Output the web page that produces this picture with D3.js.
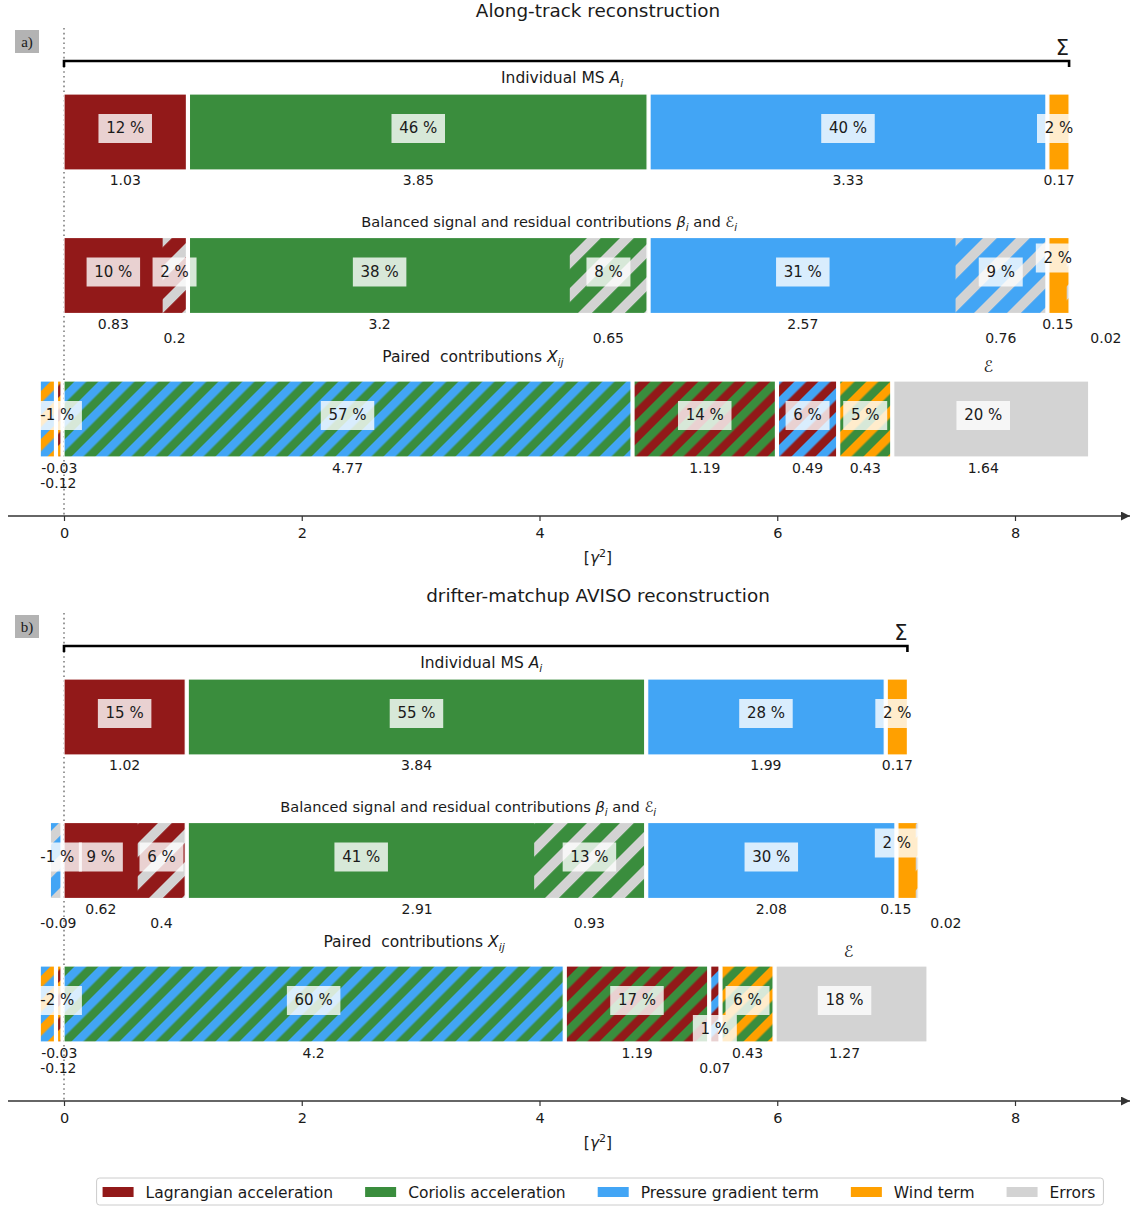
<!DOCTYPE html>
<html>
<head>
<meta charset="utf-8">
<script src="https://cdn.jsdelivr.net/npm/d3@7"></script>
<style>
  body { margin: 0; background: #fff; }
  svg text { font-family: "DejaVu Sans", sans-serif; fill: #1a1a1a; white-space: pre; }
</style>
</head>
<body>
<svg id="chart" width="1134" height="1208"></svg>
<script>
// ---- data -------------------------------------------------------------
const termNames = ["Lagrangian acceleration", "Coriolis acceleration", "Pressure gradient term", "Wind term", "Errors"];
const panelTitles = ["Along-track reconstruction", "drifter-matchup AVISO reconstruction"];
const panelTags = ["a)", "b)"];
const xTicks = [0, 2, 4, 6, 8];

// individual mean squares A_i (Lagrangian, Coriolis, pressure gradient, wind)
const individualA = [1.03, 3.85, 3.33, 0.17];
const individualB = [1.02, 3.84, 1.99, 0.17];

// balanced signal beta_i and residual E_i per term
const signalA = [0.83, 3.2, 2.57, 0.15];
const residualA = [0.2, 0.65, 0.76, 0.02];
const signalB = [0.62, 2.91, 2.08, 0.15];
const residualB = [0.4, 0.93, -0.09, 0.02];

// paired contributions X_ij, with the two terms of each pair
const pairTerms = [[1, 2], [0, 1], [0, 2], [1, 3], [0, 3], [2, 3]];
const pairedA = [4.77, 1.19, 0.49, 0.43, -0.03, -0.12];
const pairedB = [4.2, 1.19, 0.07, 0.43, -0.03, -0.12];
const errorsA = 1.64;
const errorsB = 1.27;

// ---- styling / layout -------------------------------------------------
const termColors = ["#921919", "#3a8d3d", "#42a5f5", "#ffa000", "#d3d3d3"];
const GAP = 0.025;              // spacing between stacked groups, data units
const PANEL_SHIFT = 585;
const PAIR_PERIOD = 24, RES_PERIOD = 33;

// hand-placed label offsets where neighbouring labels would overlap
const labelNudges = {
  "a:paired:value:5": [0, 15],
  "b:paired:value:5": [0, 15],
  "b:paired:value:2": [0, 15],
  "b:paired:pct:2": [0, 29],
  "a:balanced:pct:s3": [0, -14],
  "b:balanced:pct:s3": [-10, -14],
  "a:balanced:value:r3": [38, 0],
  "b:balanced:value:r3": [29, 0],
  "b:balanced:value:s3": [-11, 0],
  "b:balanced:value:s1": [56, 0],
  "a:paired:pct:err": [-8, 0], "a:paired:value:err": [-8, 0],
  "b:paired:pct:err": [-7, 0], "b:paired:value:err": [-7, 0]
};

const panels = [
  { id: "a", tag: panelTags[0], title: panelTitles[0], individual: individualA, signal: signalA, residual: residualA, paired: pairedA, errors: errorsA },
  { id: "b", tag: panelTags[1], title: panelTitles[1], individual: individualB, signal: signalB, residual: residualB, paired: pairedB, errors: errorsB }
];

const svg = d3.select("#chart");
const x = d3.scaleLinear().domain([0, 8]).range([64, 1015]);
const rowY = d3.scaleBand().domain(["individual", "balanced", "paired"]).range([94, 457]).paddingInner(0.4704);
const band = rowY.bandwidth();
const xMin = x.invert(8), xMax = x.invert(1130);

// ---- hatch patterns ---------------------------------------------------
const defs = svg.append("defs");
function stripes(id, c1, c2, periodX, frac) {
  const w = periodX / Math.SQRT2;
  const p = defs.append("pattern").attr("id", id)
    .attr("patternUnits", "userSpaceOnUse")
    .attr("width", w).attr("height", w)
    .attr("patternTransform", "rotate(45)");
  if (c1) p.append("rect").attr("width", w).attr("height", w).attr("fill", c1);
  p.append("rect").attr("width", w * frac).attr("height", w).attr("fill", c2);
}
// residual hatching: grey stripes over the term colour
termColors.slice(0, 4).forEach((c, i) => stripes("res" + i, c, termColors[4], RES_PERIOD, 0.42));
stripes("resOverlay", null, termColors[4], RES_PERIOD, 0.42);
// paired hatching: stripes of the two terms
pairTerms.forEach((t, i) => stripes("pair" + i, termColors[t[0]], termColors[t[1]], PAIR_PERIOD, 0.5));

// arrow head for the value axis
defs.append("marker").attr("id", "arrow").attr("viewBox", "0 0 10 10")
  .attr("refX", 10).attr("refY", 5).attr("markerWidth", 9).attr("markerHeight", 9)
  .attr("markerUnits", "userSpaceOnUse").attr("orient", "auto")
  .append("path").attr("d", "M0,0 L10,5 L0,10 z").attr("fill", "#333");

// ---- helpers ----------------------------------------------------------
// positive groups stacked rightwards from zero with a small gap between them
function stackRight(widths) {
  let cum = 0;
  return widths.map((w, i) => { const s = cum + i * GAP; cum += w; return [s, s + w]; });
}
// negative values stacked leftwards from zero
function stackLeft(values) {
  let cum = 0;
  return values.map((v, i) => { const e = -(cum + (i + 1) * GAP); cum += -v; return [e + v, e]; });
}
const fmt = v => String(v);

function addSubscripted(sel, parts, size) {
  // parts: [text, style] where style is "n", "i" (italic), "sub" or "up" (back to baseline)
  parts.forEach(([t, s]) => {
    const ts = sel.append("tspan").text(t);
    if (s === "i") ts.attr("font-style", "italic");
    if (s === "sub") ts.attr("font-style", "italic").attr("font-size", size * 0.7).attr("dy", size * 0.28);
    if (s === "up") ts.attr("dy", -size * 0.28);
  });
}

// ---- draw panels ------------------------------------------------------
panels.forEach((p, pi) => {
  const g = svg.append("g").attr("transform", `translate(0,${pi * PANEL_SHIFT})`);
  const total = d3.sum(p.individual);

  g.append("text").attr("x", 598).attr("y", 17).attr("text-anchor", "middle")
    .attr("font-size", 18.4).text(p.title);

  // panel tag
  g.append("rect").attr("x", 15).attr("y", 30).attr("width", 24).attr("height", 23).attr("fill", "#b3b3b3");
  g.append("text").attr("x", 27).attr("y", 47).attr("text-anchor", "middle")
    .style("font-family", "'Liberation Serif', 'DejaVu Serif', serif").attr("font-size", 15).text(p.tag);

  // zero reference
  g.append("line").attr("x1", x(0)).attr("x2", x(0)).attr("y1", 28).attr("y2", 516)
    .attr("stroke", "#808080").attr("stroke-width", 1.6).attr("stroke-dasharray", "1.6,3.2");

  // total bracket
  const sumEnd = x(total + (p.individual.length - 1) * GAP);
  g.append("path").attr("d", `M${x(0)},67 V61 H${sumEnd} V67`)
    .attr("fill", "none").attr("stroke", "#000").attr("stroke-width", 2.6);
  g.append("text").attr("x", sumEnd).attr("y", 55).attr("text-anchor", "end")
    .attr("font-size", 21).text("Σ");

  const rects = [];   // {row, x0, x1, fill, stroke}
  const labels = [];  // {row, cx, value, key, line}

  // row 1: individual mean squares
  const indSpans = stackRight(p.individual);
  indSpans.forEach((s, i) => {
    rects.push({ row: "individual", x0: s[0], x1: s[1], fill: termColors[i], stroke: true });
    labels.push({ row: "individual", cx: (s[0] + s[1]) / 2, value: p.individual[i], key: String(i), line: 0 });
  });

  // row 2: balanced signal plus residual
  const groupW = p.signal.map((s, i) => s + Math.max(p.residual[i], 0));
  const balSpans = stackRight(groupW);
  balSpans.forEach((s, i) => {
    rects.push({ row: "balanced", x0: s[0], x1: s[1], fill: termColors[i], stroke: false });
    labels.push({ row: "balanced", cx: s[0] + p.signal[i] / 2, value: p.signal[i], key: "s" + i, line: 0 });
    if (p.residual[i] > 0) {
      const r0 = s[0] + p.signal[i];
      rects.push({ row: "balanced", x0: r0, x1: s[1], fill: "url(#resOverlay)", stroke: false });
      labels.push({ row: "balanced", cx: r0 + p.residual[i] / 2, value: p.residual[i], key: "r" + i, line: 1 });
    }
    rects.push({ row: "balanced", x0: s[0], x1: s[1], fill: "none", stroke: true });
  });
  const negRes = p.residual.map((v, i) => ({ v, i })).filter(d => d.v < 0);
  stackLeft(negRes.map(d => d.v)).forEach((s, k) => {
    const i = negRes[k].i;
    rects.push({ row: "balanced", x0: s[0], x1: s[1], fill: `url(#res${i})`, stroke: true });
    labels.push({ row: "balanced", cx: (s[0] + s[1]) / 2, value: p.residual[i], key: "r" + i, line: 1 });
  });

  // row 3: paired contributions and errors
  const posPairs = p.paired.map((v, i) => ({ v, i })).filter(d => d.v > 0);
  const negPairs = p.paired.map((v, i) => ({ v, i })).filter(d => d.v < 0);
  const pairSpans = stackRight([...posPairs.map(d => d.v), p.errors]);
  posPairs.forEach((d, k) => {
    const s = pairSpans[k];
    rects.push({ row: "paired", x0: s[0], x1: s[1], fill: `url(#pair${d.i})`, stroke: true });
    labels.push({ row: "paired", cx: (s[0] + s[1]) / 2, value: d.v, key: String(d.i), line: 0 });
  });
  const errSpan = pairSpans[pairSpans.length - 1];
  rects.push({ row: "paired", x0: errSpan[0], x1: errSpan[1], fill: termColors[4], stroke: true });
  labels.push({ row: "paired", cx: (errSpan[0] + errSpan[1]) / 2, value: p.errors, key: "err", line: 0 });
  stackLeft(negPairs.map(d => d.v)).forEach((s, k) => {
    const d = negPairs[k];
    rects.push({ row: "paired", x0: s[0], x1: s[1], fill: `url(#pair${d.i})`, stroke: true });
    labels.push({ row: "paired", cx: (s[0] + s[1]) / 2, value: d.v, key: String(d.i), line: 0 });
  });

  g.append("g").selectAll("rect").data(rects).join("rect")
    .attr("x", d => x(d.x0)).attr("width", d => x(d.x1) - x(d.x0))
    .attr("y", d => rowY(d.row)).attr("height", band)
    .attr("fill", d => d.fill)
    .attr("stroke", d => d.stroke ? "#fff" : "none").attr("stroke-width", 1.2);

  // row titles
  const yTop = r => rowY(r);
  const t1 = g.append("text").attr("x", x(total / 2)).attr("y", yTop("individual") - 11)
    .attr("text-anchor", "middle").attr("font-size", 15.5);
  addSubscripted(t1, [["Individual MS ", "n"], ["A", "i"], ["i", "sub"]], 15.5);
  const t2 = g.append("text").attr("x", x(total / 2) - 13).attr("y", yTop("balanced") - 11)
    .attr("text-anchor", "middle").attr("font-size", 14.6);
  addSubscripted(t2, [["Balanced signal and residual contributions ", "n"], ["β", "i"], ["i", "sub"],
    [" and ", "up"], ["ℰ", "i"], ["i", "sub"]], 14.6);
  const pairSum = d3.sum(posPairs, d => d.v);
  const t3 = g.append("text").attr("x", x(pairSum / 2)).attr("y", yTop("paired") - 19)
    .attr("text-anchor", "middle").attr("font-size", 15.5);
  addSubscripted(t3, [["Paired  contributions ", "n"], ["X", "i"], ["ij", "sub"]], 15.5);
  g.append("text").attr("x", x((errSpan[0] + errSpan[1]) / 2) - 3).attr("y", yTop("paired") - 9)
    .attr("text-anchor", "middle").attr("font-size", 16).attr("font-style", "italic").text("ℰ");

  // labels: percentage share boxes and value captions
  const leftLimit = x(-0.2);
  labels.forEach(l => {
    const pct = Math.round(l.value / total * 100);
    const top = rowY(l.row);
    const nudgePct = labelNudges[`${p.id}:${l.row}:pct:${l.key}`] || [0, 0];
    const nudgeVal = labelNudges[`${p.id}:${l.row}:value:${l.key}`] || [0, 0];

    if (pct !== 0) {
      const lg = g.append("g");
      const box = lg.append("rect").attr("fill", "#fff").attr("fill-opacity", 0.8);
      const tx = lg.append("text").attr("font-size", 15).attr("text-anchor", "middle").text(pct + " %");
      const w = tx.node().getComputedTextLength();
      const cx = Math.max(x(l.cx), leftLimit + w / 2) + nudgePct[0];
      const base = top + 39 + nudgePct[1];
      tx.attr("x", cx).attr("y", base);
      box.attr("x", cx - w / 2 - 7.7).attr("width", w + 15.4).attr("y", base - 19).attr("height", 29);
    }

    const vt = g.append("text").attr("font-size", 14).attr("text-anchor", "middle").text(fmt(l.value));
    const vw = vt.node().getComputedTextLength();
    const vx = Math.max(x(l.cx), leftLimit + vw / 2) + nudgeVal[0];
    vt.attr("x", vx).attr("y", top + band + 15.5 + l.line * 14.5 + nudgeVal[1]);
  });

  // value axis with arrow
  const axisY = 516;
  g.append("line").attr("x1", x(xMin)).attr("x2", x(xMax)).attr("y1", axisY).attr("y2", axisY)
    .attr("stroke", "#333").attr("stroke-width", 1.6).attr("marker-end", "url(#arrow)");
  const ax = g.append("g").attr("transform", `translate(0,${axisY})`)
    .call(d3.axisBottom(x).tickValues(xTicks).tickSize(5).tickPadding(7).tickFormat(d3.format("d")));
  ax.select(".domain").remove();
  ax.selectAll(".tick line").attr("stroke", "#333").attr("stroke-width", 1.2);
  ax.selectAll(".tick text").attr("font-size", 14.5).attr("font-family", "DejaVu Sans").attr("fill", "#1a1a1a");
  const al = g.append("text").attr("x", 598).attr("y", 563).attr("text-anchor", "middle").attr("font-size", 15.5);
  al.append("tspan").text("[");
  al.append("tspan").attr("font-style", "italic").text("γ");
  al.append("tspan").attr("font-size", 11).attr("dy", -6).text("2");
  al.append("tspan").attr("dy", 6).text("]");
});

// ---- legend -----------------------------------------------------------
const legend = svg.append("g");
const legBox = legend.append("rect").attr("y", 1178).attr("height", 27).attr("rx", 3)
  .attr("fill", "#fff").attr("stroke", "#cccccc").attr("stroke-width", 1);
let lx = 0;
const items = termNames.map((name, i) => {
  const it = legend.append("g");
  it.append("rect").attr("x", 0).attr("y", 1187).attr("width", 31).attr("height", 10).attr("fill", termColors[i]);
  const t = it.append("text").attr("x", 43).attr("y", 1197.5).attr("font-size", 15.5).text(name);
  const w = t.node().getComputedTextLength();
  it.datum(lx);
  lx += 43 + w + 32;
  return it;
});
const legW = lx - 32;
const legX0 = 599 - legW / 2;
items.forEach(it => it.attr("transform", `translate(${it.datum() + legX0},0)`));
legBox.attr("x", legX0 - 6).attr("width", legW + 14);
</script>
</body>
</html>
